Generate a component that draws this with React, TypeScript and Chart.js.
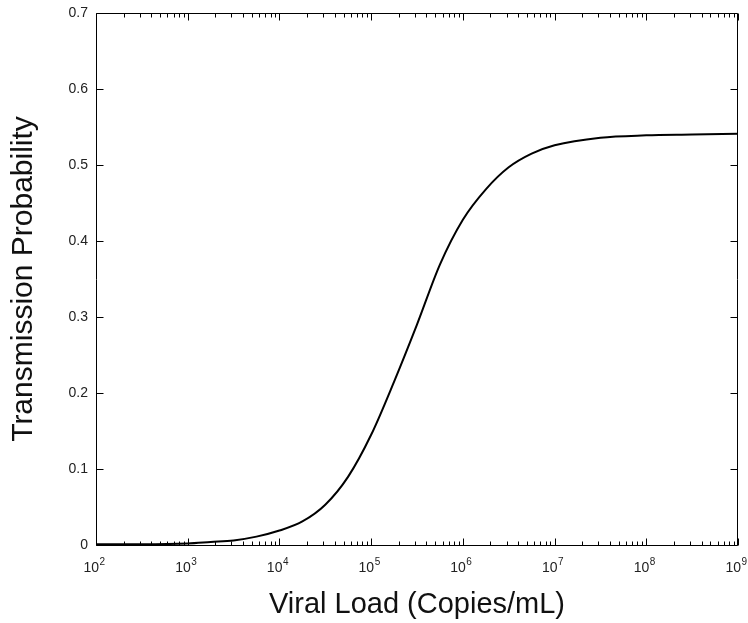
import React, { useEffect, useRef } from "react";
import { Chart, registerables } from "chart.js";

Chart.register(...registerables);

// Viral load (copies/mL) sample points
const viralLoad: number[] = [
  1e2, 3.16e2, 1e3, 1.78e3, 3.16e3, 5.62e3, 1e4, 1.78e4, 3.16e4, 5.62e4,
  1e5, 1.78e5, 3.16e5, 5.62e5, 1e6, 1.78e6, 3.16e6, 5.62e6, 1e7, 3.16e7,
  1e8, 3.16e8, 1e9,
];
// Transmission probability
const transmissionProb: number[] = [
  0.001, 0.001, 0.002, 0.004, 0.006, 0.011, 0.019, 0.031, 0.053, 0.09,
  0.145, 0.215, 0.29, 0.369, 0.428, 0.468, 0.497, 0.515, 0.526, 0.536,
  0.539, 0.54, 0.541,
];
const yTickValues: number[] = [0, 0.1, 0.2, 0.3, 0.4, 0.5, 0.6, 0.7];
const xDecades: number[] = [2, 3, 4, 5, 6, 7, 8, 9];

const FONT = '"Liberation Sans", Arial, Helvetica, sans-serif';

const frameTicksPlugin = {
  id: "frameTicks",
  afterDatasetsDraw(chart: any) {
    const { ctx, chartArea } = chart;
    const { left, right, top, bottom } = chartArea;
    const xs = chart.scales.x;
    const ys = chart.scales.y;
    ctx.save();
    ctx.strokeStyle = "#000";
    ctx.lineWidth = 1;
    ctx.beginPath();
    const L = Math.round(left) + 0.5;
    const R = Math.round(right) - 0.5;
    const T = Math.round(top) + 0.5;
    const B = Math.round(bottom) + 0.5;
    ctx.rect(L, T, R - L, B - T);
    // x ticks (major + minor), inward on bottom and top
    for (let i = 0; i < xDecades.length; i++) {
      const e = xDecades[i];
      const maxM = i === xDecades.length - 1 ? 1 : 9;
      for (let m = 1; m <= maxM; m++) {
        const v = m * Math.pow(10, e);
        const px = Math.round(xs.getPixelForValue(v)) + 0.5;
        const len = m === 1 ? 7 : 4;
        ctx.moveTo(px, B);
        ctx.lineTo(px, B - len);
        ctx.moveTo(px, T);
        ctx.lineTo(px, T + len);
      }
    }
    // y ticks, inward on left and right
    for (const v of yTickValues) {
      const py = Math.round(ys.getPixelForValue(v)) + 0.5;
      ctx.moveTo(L, py);
      ctx.lineTo(L + 7, py);
      ctx.moveTo(R, py);
      ctx.lineTo(R - 7, py);
    }
    ctx.stroke();

    // x tick labels: "10" with raised exponent
    ctx.fillStyle = "#222";
    ctx.textBaseline = "alphabetic";
    for (const e of xDecades) {
      const px = xs.getPixelForValue(Math.pow(10, e));
      ctx.font = `14px ${FONT}`;
      const base = "10";
      const wBase = ctx.measureText(base).width;
      ctx.font = `10px ${FONT}`;
      const exp = String(e);
      const wExp = ctx.measureText(exp).width;
      const start = px - (wBase + wExp) / 2 - 2;
      ctx.font = `14px ${FONT}`;
      ctx.textAlign = "left";
      ctx.fillText(base, start, bottom + 27);
      ctx.font = `10px ${FONT}`;
      ctx.fillText(exp, start + wBase + 0.5, bottom + 20);
    }
    ctx.restore();
  },
};

export default function App() {
  const canvasRef = useRef<HTMLCanvasElement | null>(null);

  useEffect(() => {
    document.body.style.margin = "0";
    const canvas = canvasRef.current;
    if (!canvas) return;
    const chart = new Chart(canvas, {
      type: "line",
      data: {
        datasets: [
          {
            label: "Transmission Probability",
            data: viralLoad.map((x, i) => ({ x, y: transmissionProb[i] })),
            borderColor: "#000",
            borderWidth: 2,
            pointRadius: 0,
            fill: false,
            cubicInterpolationMode: "monotone",
          },
        ],
      },
      options: {
        responsive: false,
        animation: false,
        layout: { padding: { left: 0, right: 10, top: 13, bottom: 0 } },
        plugins: { legend: { display: false }, tooltip: { enabled: false } },
        scales: {
          x: {
            type: "logarithmic",
            min: 1e2,
            max: 1e9,
            grid: { display: false, drawTicks: false },
            border: { display: false },
            afterBuildTicks: (scale: any) => {
              scale.ticks = xDecades.map((e) => ({ value: Math.pow(10, e), major: true }));
            },
            afterFit: (scale: any) => {
              scale.height = 78;
              scale.paddingLeft = 0;
              scale.paddingRight = 0;
            },
            ticks: {
              autoSkip: false,
              maxRotation: 0,
              minRotation: 0,
              padding: 8,
              color: "rgba(0,0,0,0)",
              font: { family: FONT, size: 14 },
              callback: (value: any) => "10^" + Math.round(Math.log10(Number(value))),
            },
            title: {
              display: true,
              text: "Viral Load (Copies/mL)",
              color: "#111",
              font: { family: FONT, size: 29, lineHeight: 1.2 },
              padding: { top: 0, bottom: 1 },
            },
          },
          y: {
            type: "linear",
            min: 0,
            max: 0.7,
            grid: { display: false, drawTicks: false },
            border: { display: false },
            afterBuildTicks: (scale: any) => {
              scale.ticks = yTickValues.map((v) => ({ value: v }));
            },
            afterFit: (scale: any) => {
              scale.width = 96;
              scale.paddingTop = 0;
              scale.paddingBottom = 0;
            },
            ticks: {
              padding: 8,
              color: "#222",
              font: { family: FONT, size: 14 },
              callback: (value: any) => {
                const v = Math.round(Number(value) * 10) / 10;
                return v === 0 ? "0" : v.toFixed(1);
              },
            },
            title: {
              display: true,
              text: "Transmission Probability",
              color: "#111",
              font: { family: FONT, size: 30, lineHeight: 1.2 },
              padding: { top: 6, bottom: 0 },
            },
          },
        },
      },
      plugins: [frameTicksPlugin],
    } as any);
    return () => chart.destroy();
  }, []);

  return (
    <div style={{ width: 748, height: 623, background: "#fff" }}>
      <canvas ref={canvasRef} width={748} height={623} style={{ display: "block" }} />
    </div>
  );
}
